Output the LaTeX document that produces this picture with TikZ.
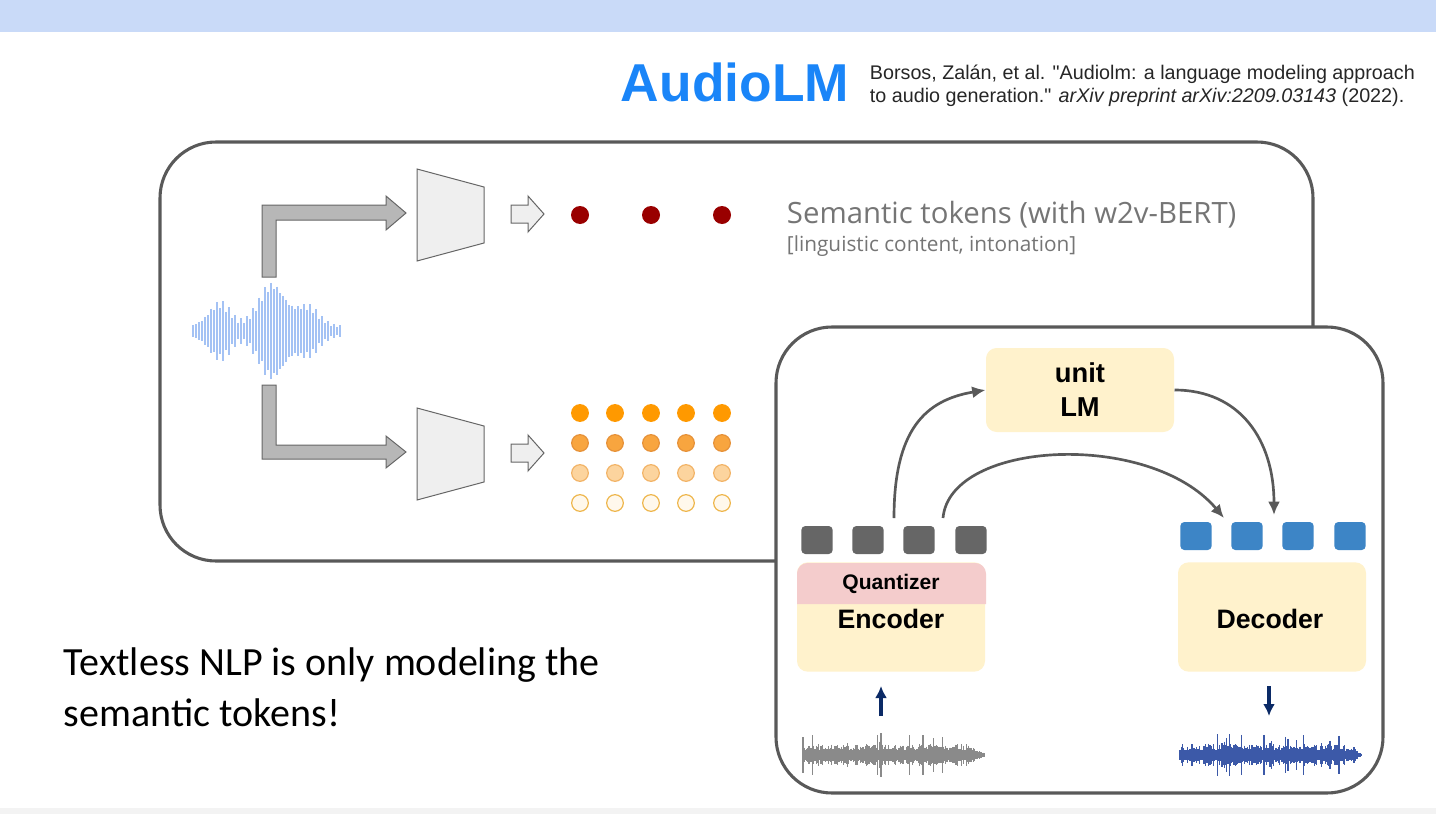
\documentclass[tikz,border=0pt]{standalone}
\usepackage{fontspec}
\setmainfont{Liberation Sans}
\newfontfamily\slidefont{Carlito}
\newfontfamily\tokenfont{Open Sans}
\usetikzlibrary{arrows.meta, positioning}

\definecolor{faixa}{HTML}{C9DAF8}
\definecolor{rodape}{HTML}{F3F3F3}
\definecolor{azulaudio}{HTML}{1A85F8}
\definecolor{moldura}{HTML}{595959}
\definecolor{amarelo}{HTML}{FFF2CC}
\definecolor{rosa}{HTML}{F4CCCC}
\definecolor{cinzatoken}{HTML}{666666}
\definecolor{azultoken}{HTML}{3D85C6}
\definecolor{marinho}{HTML}{0B2A66}
\definecolor{vermelho}{HTML}{990000}
\definecolor{onda}{HTML}{A4C2F4}
\definecolor{ondacinza}{HTML}{8A8A8A}
\definecolor{ondaazul}{HTML}{3C59A8}
\definecolor{bloco}{HTML}{B7B7B7}
\definecolor{trapezio}{HTML}{EFEFEF}
\definecolor{textocinza}{HTML}{757575}

\begin{document}
\begin{tikzpicture}[
    x=0.75pt, y=-0.75pt,
    line width=0.75pt,
    painel/.style={draw=moldura, line width=2.3pt, rounded corners=42pt},
    blocoseta/.style={fill=bloco, draw=cinzatoken, line width=0.75pt},
    setinha/.style={fill=trapezio, draw=cinzatoken, line width=0.75pt},
    ponto/.style={circle, minimum size=13.5pt, inner sep=0pt},
    caixa/.style={fill=amarelo, rounded corners=8pt, minimum width=141pt, inner sep=0pt, align=center, font=\bfseries},
    token/.style={rectangle, rounded corners=3pt, minimum width=23.5pt, minimum height=21pt, inner sep=0pt},
    seta/.style={draw=moldura, line width=2pt, -{Latex[length=10pt, width=9pt]}},
    setamar/.style={draw=marinho, line width=2.7pt, -{Latex[length=9pt, width=9pt]}}
]
    \useasboundingbox (0,0) rectangle (1436,814);
    \fill[faixa] (0,0) rectangle (1436,32);
    \fill[rodape] (0,808) rectangle (1436,814);

    \node[font=\bfseries\fontsize{40}{44}\selectfont, text=azulaudio] (titulo) at (735,82) {AudioLM};
    \node[anchor=west, align=left, text=black!85, font=\fontsize{14.8}{17.3}\selectfont] (citacao) at (865,86)
        {Borsos, Zalán, et al. \textquotedbl Audiolm: a language modeling approach\\
         to audio generation.\textquotedbl{} \textit{arXiv preprint arXiv:2209.03143} (2022).};

    % painel de tras
    \draw[painel] (160,142) rectangle (1313,561);

    \foreach \x in {193,196,...,340} {
        \pgfmathsetmacro\amp{(45*exp(-(((\x-272)/19)^2))+25*exp(-(((\x-220)/15)^2))+21*exp(-(((\x-308)/15)^2))+6)*(0.6+0.4*abs(sin(\x*31)))}
        \draw[onda, line width=1pt] (\x,331-\amp) -- (\x,331+\amp);
    }

    \draw[blocoseta] (262,277) -- (262,205) -- (386,205) -- (386,196) -- (406,213)
        -- (386,230) -- (386,220) -- (276,220) -- (276,277) -- cycle;
    \draw[blocoseta] (262,385) -- (262,459) -- (386,459) -- (386,468) -- (406,452)
        -- (386,436) -- (386,445) -- (276,445) -- (276,385) -- cycle;

    \foreach \dy in {0,239} {
        \draw[setinha] (417,169+\dy) -- (484,187+\dy) -- (484,243+\dy) -- (417,261+\dy) -- cycle;
        \draw[setinha] (511,205+\dy) -- (528,205+\dy) -- (528,196+\dy) -- (544,214+\dy)
            -- (528,232+\dy) -- (528,223+\dy) -- (511,223+\dy) -- cycle;
    }

    \foreach \i/\x in {1/580,2/651,3/722}
        \node[ponto, fill=vermelho] (sem\i) at (\x,215) {};

    \foreach \j/\cf/\cd [count=\lin] in {413/FF9900/FF9900, 443/F8A53F/E69138, 473/FCD49E/F2B366, 503/FFF8EC/EEB54A} {
        \definecolor{pf}{HTML}{\cf}\definecolor{pd}{HTML}{\cd}
        \foreach \x [count=\col] in {580,615,651,686,722}
            \node[ponto, fill=pf, draw=pd, line width=0.9pt, minimum size=12.5pt] (ac\lin\col) at (\x,\j) {};
    }

    \node[anchor=west, text=textocinza, font=\tokenfont\fontsize{22}{24}\selectfont] (semtxt) at (782,215)
        {Semantic tokens (with w2v-BERT)};
    \node[anchor=west, text=textocinza, font=\tokenfont\fontsize{15.6}{18}\selectfont] (semsub) at (782,246)
        {[linguistic content, intonation]};

    % painel da frente
    \draw[painel, fill=white] (776,327) rectangle (1383,793);

    \node[caixa, minimum height=63pt, font=\bfseries\fontsize{20.5}{25.5}\selectfont] (ulm) at (1080,390) {unit\\LM};
    \node[caixa, minimum height=82pt] (enc) at (891,617) {};
    \node[caixa, minimum height=82pt] (dec) at (1272,617) {};
    \fill[rosa] (797,604) [rounded corners=8pt] -- (797,563) -- (986,563) [sharp corners] -- (986,604) -- cycle;
    \node[font=\bfseries\fontsize{15.8}{18}\selectfont] (quant) at (891,584) {Quantizer};
    \node[font=\bfseries\fontsize{20}{24}\selectfont] (enctxt) at (891,619) {Encoder};
    \node[font=\bfseries\fontsize{20}{24}\selectfont] (dectxt) at (1270,619) {Decoder};

    \foreach \i/\x in {1/817,2/868,3/919,4/971}
        \node[token, fill=cinzatoken] (e\i) at (\x,540) {};
    \foreach \i/\x in {1/1196,2/1247,3/1298,4/1350}
        \node[token, fill=azultoken] (d\i) at (\x,536) {};

    \coordinate (s1) at (894,518);
    \coordinate (s2) at (943,518);
    \coordinate (t1) at (1224,518);
    \coordinate (t2) at (1274,515);
    \draw[seta] (s1) .. controls (894,430) and (925,400) .. (ulm.west);
    \draw[seta] (ulm.east) .. controls (1240,390) and (1274,440) .. (t2);
    \draw[seta] (s2) .. controls (950,440) and (1150,430) .. (t1);

    \pgfmathsetseed{11}
    \foreach \x in {803,804.2,...,985} {
        \pgfmathsetmacro\amp{(5+6*rnd)*(1+1*(rnd>0.85))*min(1,(990-\x)/25)}
        \draw[ondacinza, line width=0.8pt] (\x,755-\amp) -- (\x,755+\amp);
    }
    \foreach \x in {1180,1181.2,...,1362} {
        \pgfmathsetmacro\amp{(5+6*rnd)*(1+1*(rnd>0.85))*min(1,(1367-\x)/25)}
        \draw[ondaazul, line width=0.8pt] (\x,755-\amp) -- (\x,755+\amp);
    }

    \coordinate (w1) at (881,716);
    \coordinate (w2) at (881,686);
    \coordinate (w3) at (1269,686);
    \coordinate (w4) at (1269,716);
    \draw[setamar] (w1) -- (w2);
    \draw[setamar] (w3) -- (w4);

    \node[anchor=west, align=left, font=\slidefont\fontsize{30}{38}\selectfont] (nota) at (59,687)
        {Textless NLP is only modeling the\\semantic tokens!};
\end{tikzpicture}
\end{document}
